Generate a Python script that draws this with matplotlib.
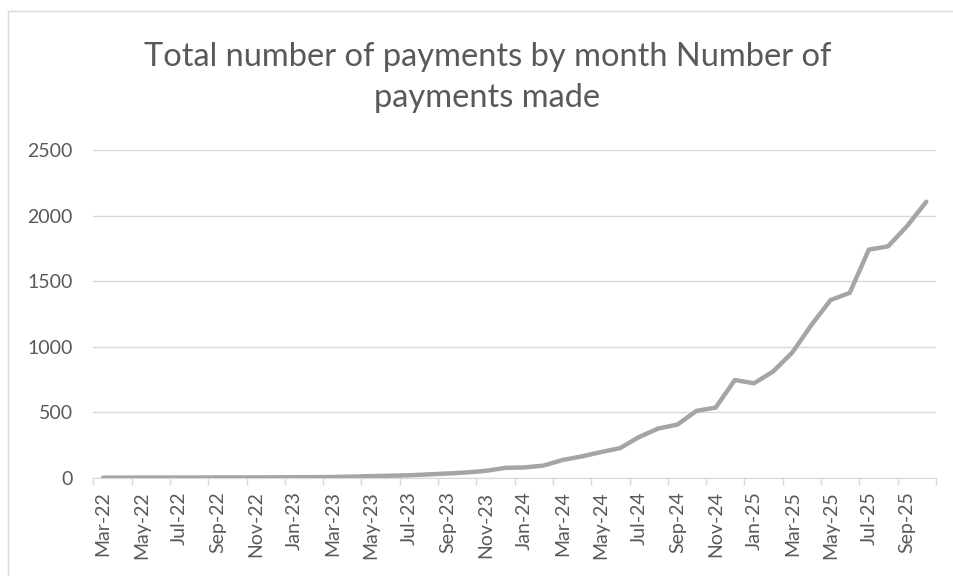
import numpy as np
import matplotlib
matplotlib.use("Agg")
import matplotlib.pyplot as plt
from matplotlib.patches import Rectangle

# monthly values, Mar-22 .. Oct-25
months = ["Mar-22", "Apr-22", "May-22", "Jun-22", "Jul-22", "Aug-22", "Sep-22", "Oct-22",
          "Nov-22", "Dec-22", "Jan-23", "Feb-23", "Mar-23", "Apr-23", "May-23", "Jun-23",
          "Jul-23", "Aug-23", "Sep-23", "Oct-23", "Nov-23", "Dec-23", "Jan-24", "Feb-24",
          "Mar-24", "Apr-24", "May-24", "Jun-24", "Jul-24", "Aug-24", "Sep-24", "Oct-24",
          "Nov-24", "Dec-24", "Jan-25", "Feb-25", "Mar-25", "Apr-25", "May-25", "Jun-25",
          "Jul-25", "Aug-25", "Sep-25", "Oct-25"]
payments = [0, 0, 1, 1, 1, 1, 2, 2,
            2, 3, 3, 4, 5, 8, 12, 15,
            18, 25, 32, 40, 52, 75, 78, 92,
            135, 162, 195, 225, 310, 375, 405, 510,
            535, 745, 720, 810, 955, 1165, 1355, 1410,
            1740, 1765, 1920, 2105]
yticks = [0, 500, 1000, 1500, 2000, 2500]

grey_txt = "#595959"
grid_c = "#D9D9D9"

fig = plt.figure(figsize=(9.54, 5.76), dpi=100)
ax = fig.add_axes([0.0979, 0.1707, 0.981 - 0.0979, 0.7396 - 0.1707])

# chart area border
fig.patches.append(Rectangle((8 / 954, -0.01), 1.0, 1 - 11 / 576 + 0.01,
                             transform=fig.transFigure, fill=False,
                             edgecolor=grid_c, linewidth=1))

x = np.arange(len(months))
ax.plot(x, payments, color="#A5A5A5", linewidth=3.2, solid_capstyle="round",
        solid_joinstyle="round", zorder=3)

ax.set_xlim(-0.5, len(months) - 0.5)
ax.set_ylim(0, 2500)
ax.set_yticks(yticks)
ax.set_yticklabels([str(v) for v in yticks])
ax.yaxis.grid(True, color=grid_c, linewidth=1)
ax.set_axisbelow(True)

# labels every second month, ticks between categories
ax.set_xticks(x[::2])
ax.set_xticklabels(months[::2], rotation=90)
ax.set_xticks(np.arange(-0.5, len(months), 2), minor=True)
ax.tick_params(axis="x", which="major", length=0, pad=10, labelsize=14, labelcolor=grey_txt)
ax.tick_params(axis="x", which="minor", length=5, color=grid_c, width=1)
ax.tick_params(axis="y", length=0, pad=15, labelsize=14, labelcolor=grey_txt)

for s in ["top", "right", "left"]:
    ax.spines[s].set_visible(False)
ax.spines["bottom"].set_color(grid_c)

for lab in ax.get_xticklabels() + ax.get_yticklabels():
    lab.set_family("Lato")

fig.text(0.511, 0.865, "Total number of payments by month Number of\npayments made",
         ha="center", va="center", fontsize=23.5, color=grey_txt, family="Lato",
         linespacing=1.45)

fig.savefig("out.png", dpi=100)
